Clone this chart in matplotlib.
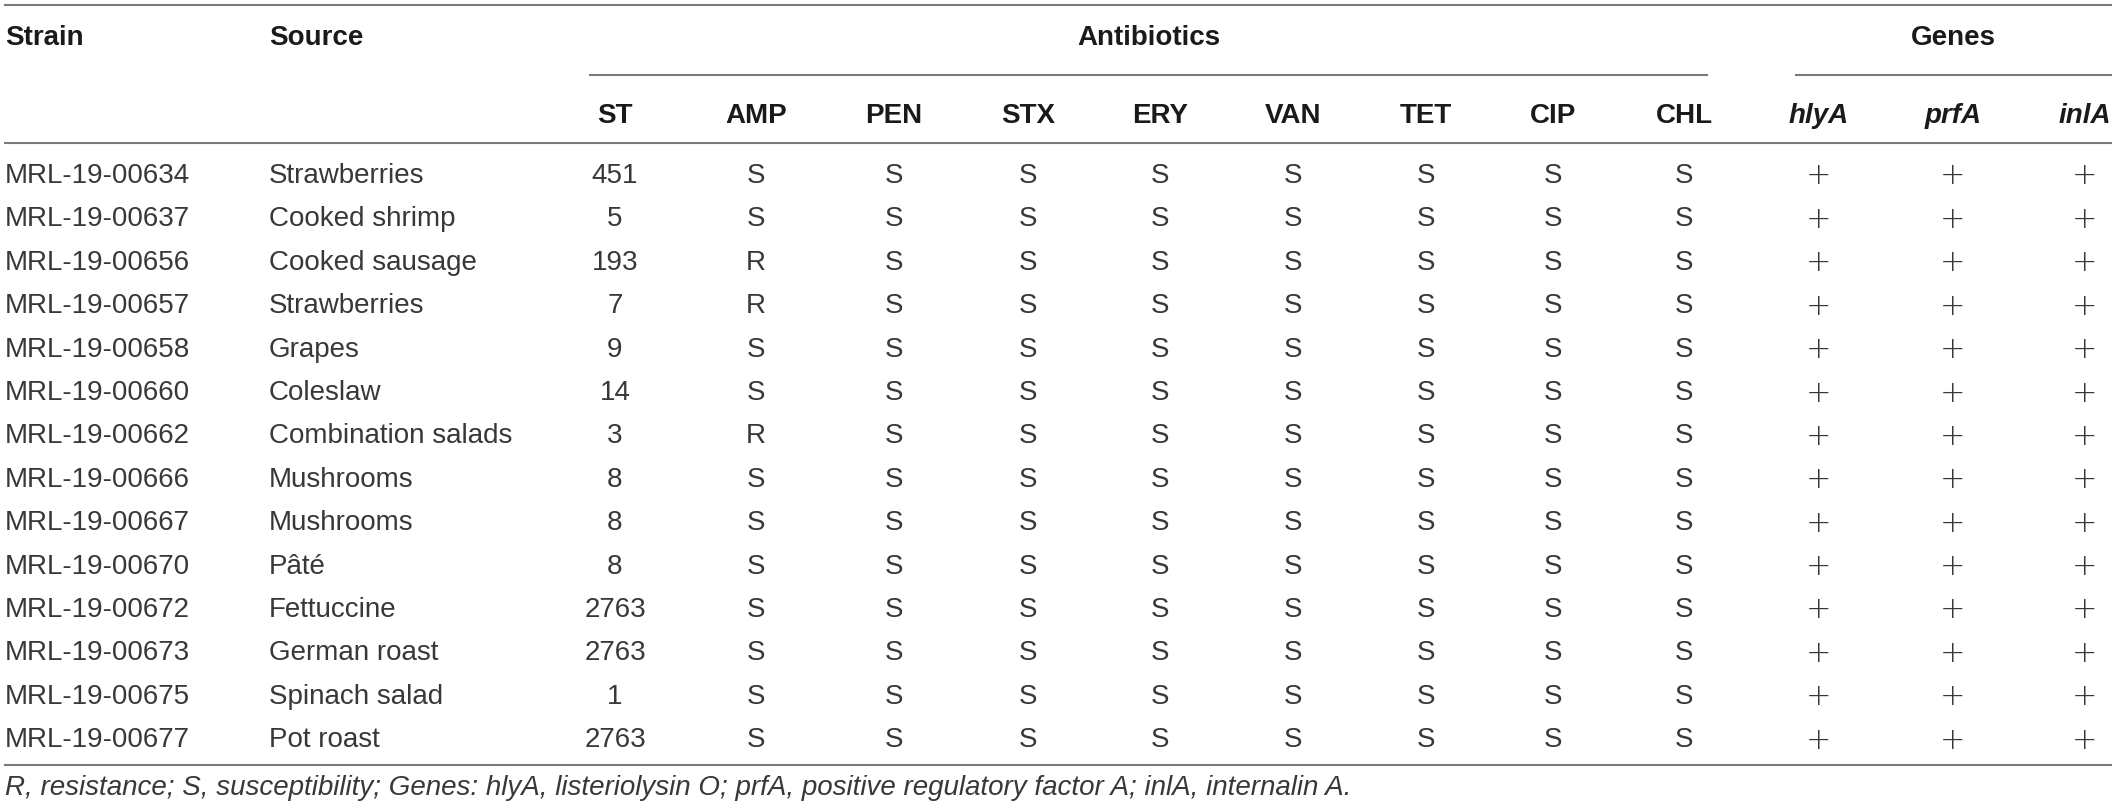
import matplotlib
matplotlib.use("Agg")
import matplotlib.pyplot as plt

# ---- data ----
strains = ["MRL-19-00634", "MRL-19-00637", "MRL-19-00656", "MRL-19-00657",
           "MRL-19-00658", "MRL-19-00660", "MRL-19-00662", "MRL-19-00666",
           "MRL-19-00667", "MRL-19-00670", "MRL-19-00672", "MRL-19-00673",
           "MRL-19-00675", "MRL-19-00677"]
sources = ["Strawberries", "Cooked shrimp", "Cooked sausage", "Strawberries",
           "Grapes", "Coleslaw", "Combination salads", "Mushrooms", "Mushrooms",
           "Pâté", "Fettuccine", "German roast", "Spinach salad", "Pot roast"]
st_values = ["451", "5", "193", "7", "9", "14", "3", "8", "8", "8",
             "2763", "2763", "1", "2763"]
antibiotics = ["AMP", "PEN", "STX", "ERY", "VAN", "TET", "CIP", "CHL"]
amp = ["S", "S", "R", "R", "S", "S", "R", "S", "S", "S", "S", "S", "S", "S"]
pen = ["S"] * 14
stx = ["S"] * 14
ery = ["S"] * 14
van = ["S"] * 14
tet = ["S"] * 14
cip = ["S"] * 14
chl = ["S"] * 14
genes = ["hlyA", "prfA", "inlA"]
hlyA = ["+"] * 14
prfA = ["+"] * 14
inlA = ["+"] * 14
footnote = ("R, resistance; S, susceptibility; Genes: hlyA, listeriolysin O; "
            "prfA, positive regulatory factor A; inlA, internalin A.")

# ---- layout ----
W, H = 2117, 810
fig = plt.figure(figsize=(W / 100, H / 100), dpi=100)
ax = fig.add_axes([0, 0, 1, 1])
ax.set_xlim(0, W)
ax.set_ylim(H, 0)
ax.axis("off")

FONT = "Liberation Sans"
FS = 20
DATA_C = "#383838"
HEAD_C = "#1a1a1a"
LINE_C = "#7a7a7a"
LW = 1.5

x_strain = 5
x_source = 269
col_x = [615, 756, 894, 1028, 1160, 1293, 1426, 1553, 1684]  # ST + antibiotics
gene_x = [1819, 1953, 2085]

y_head1 = 35
y_head2 = 113
row_y0 = 173
row_dy = 43.4
cap = 10  # half cap height in px


def put(x, y, s, ha="center", weight="normal", style="normal", color=DATA_C):
    ax.text(x, y + cap, s, ha=ha, va="baseline", fontsize=FS,
            fontfamily=FONT, fontweight=weight, fontstyle=style, color=color)


# rules
ax.plot([4, 2112], [5, 5], color=LINE_C, lw=LW, solid_capstyle="butt")
ax.plot([589, 1708], [75, 75], color=LINE_C, lw=LW, solid_capstyle="butt")
ax.plot([1795, 2112], [75, 75], color=LINE_C, lw=LW, solid_capstyle="butt")
ax.plot([4, 2112], [143, 143], color=LINE_C, lw=LW, solid_capstyle="butt")
ax.plot([4, 2112], [765, 765], color=LINE_C, lw=LW, solid_capstyle="butt")

# headers
put(x_strain, y_head1, "Strain", ha="left", weight="bold", color=HEAD_C)
put(x_source, y_head1, "Source", ha="left", weight="bold", color=HEAD_C)
put((589 + 1708) / 2, y_head1, "Antibiotics", weight="bold", color=HEAD_C)
put((1795 + 2112) / 2, y_head1, "Genes", weight="bold", color=HEAD_C)
for x, lab in zip(col_x, ["ST"] + antibiotics):
    put(x, y_head2, lab, weight="bold", color=HEAD_C)
for x, lab in zip(gene_x, genes):
    put(x, y_head2, lab, weight="bold", style="italic", color=HEAD_C)

# body
ab_cols = [amp, pen, stx, ery, van, tet, cip, chl]
gene_cols = [hlyA, prfA, inlA]
for i in range(len(strains)):
    y = row_y0 + i * row_dy
    put(x_strain, y, strains[i], ha="left")
    put(x_source, y, sources[i], ha="left")
    put(col_x[0], y, st_values[i])
    for x, col in zip(col_x[1:], ab_cols):
        put(x, y, col[i])
    for x, col in zip(gene_x, gene_cols):
        ax.text(x, y, col[i], ha="center", va="center_baseline", fontsize=FS + 2,
                fontfamily="DejaVu Sans", fontweight="light", color=DATA_C)

put(5, 785, footnote, ha="left", style="italic")

fig.savefig("out.png", dpi=100)
